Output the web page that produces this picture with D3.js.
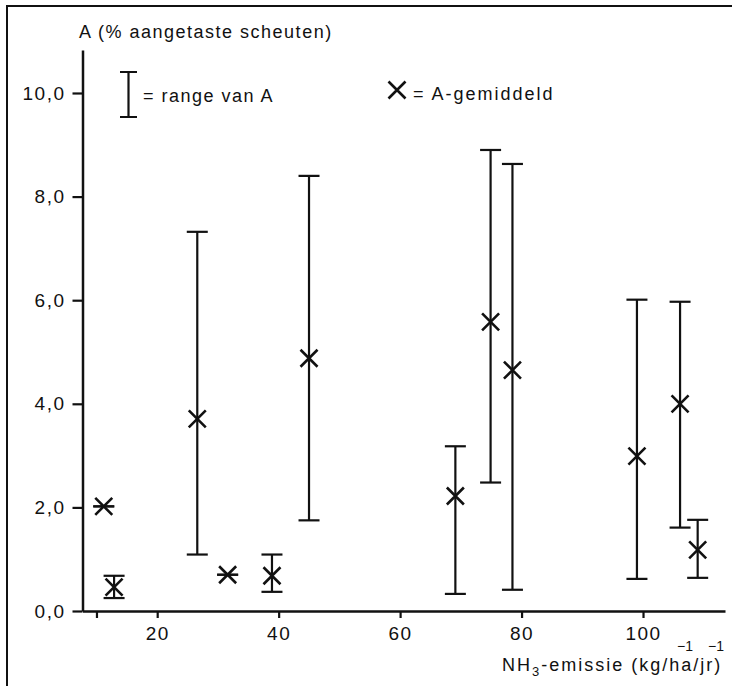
<!DOCTYPE html>
<html>
<head>
<meta charset="utf-8">
<script src="https://cdn.jsdelivr.net/npm/d3@7"></script>
<style>
  html, body { margin: 0; padding: 0; background: #fff; }
  svg { display: block; }
  text { font-family: "Liberation Sans", Arial, sans-serif; fill: #111; }
</style>
</head>
<body>
<svg id="chart" width="732" height="686"></svg>
<script>
"use strict";

// NH3-emissie per locatie (kg/ha/jr)
const emission = [11.2, 12.9, 26.6, 31.6, 38.9, 45.0, 69.1, 74.9, 78.5, 99.0, 106.1, 109.0];
// A: gemiddeld, minimum en maximum (% aangetaste scheuten)
const meanA = [2.02, 0.46, 3.71, 0.70, 0.68, 4.88, 2.22, 5.58, 4.65, 2.99, 4.00, 1.18];
const minA  = [2.02, 0.25, 1.09, 0.70, 0.37, 1.75, 0.33, 2.48, 0.41, 0.62, 1.61, 0.64];
const maxA  = [2.02, 0.68, 7.32, 0.70, 1.09, 8.40, 3.18, 8.90, 8.63, 6.01, 5.97, 1.76];

const xTicks = [10, 20, 40, 60, 80, 100];
const xTickLabels = ["", "20", "40", "60", "80", "100"];
const yTicks = [0, 2, 4, 6, 8, 10];

let svg = d3.select("#chart");
let ink = "#111";

let data = emission.map((e, i) => ({e: e, mean: meanA[i], lo: minA[i], hi: maxA[i]}));

let x = d3.scaleLinear().domain([7.7, 113.5]).range([82.5, 725]);
let y = d3.scaleLinear().domain([0, 10.83]).range([611, 50]);

// outer frame
svg.append("rect")
  .attr("x", 7).attr("y", 6)
  .attr("width", 740).attr("height", 700)
  .attr("fill", "none").attr("stroke", ink).attr("stroke-width", 2);

// y axis
let yAxis = d3.axisLeft(y)
  .tickValues(yTicks)
  .tickFormat(d => d3.format(".1f")(d).replace(".", ","))
  .tickSize(10).tickSizeOuter(0).tickPadding(7);
let gy = svg.append("g").attr("transform", `translate(${x.range()[0]},0)`).call(yAxis);
gy.select(".domain").attr("stroke", ink).attr("stroke-width", 2.5);
gy.selectAll(".tick line").attr("stroke", ink).attr("stroke-width", 2.2);
gy.selectAll(".tick text")
  .style("font-size", "19px").style("letter-spacing", "1.5px")
  .attr("fill", ink);

// x axis
let xAxis = d3.axisBottom(x)
  .tickValues(xTicks)
  .tickFormat((d, i) => xTickLabels[i])
  .tickSize(7).tickSizeOuter(0).tickPadding(9);
let gx = svg.append("g").attr("transform", `translate(0,${y.range()[0]})`).call(xAxis);
gx.select(".domain").attr("stroke", ink).attr("stroke-width", 2.5);
gx.selectAll(".tick line").attr("stroke", ink).attr("stroke-width", 2.2);
gx.selectAll(".tick text")
  .style("font-size", "19px").style("letter-spacing", "1.5px")
  .attr("fill", ink);

// axis titles
svg.append("text")
  .attr("x", 79).attr("y", 38)
  .style("font-size", "18px").style("letter-spacing", "1.5px")
  .text("A (% aangetaste scheuten)");

let xl = svg.append("text")
  .attr("x", 502).attr("y", 671)
  .style("font-size", "18px").style("letter-spacing", "2px");
xl.append("tspan").text("NH");
xl.append("tspan").attr("dy", 5).style("font-size", "13px").text("3");
xl.append("tspan").attr("dy", -5).text("-emissie (kg/ha/jr)");
svg.append("text").attr("x", 677).attr("y", 651)
  .style("font-size", "14px").text("\u22121");
svg.append("text").attr("x", 708).attr("y", 651)
  .style("font-size", "14px").text("\u22121");

// error bars
let capW = 21;
let bars = svg.append("g").attr("stroke", ink).attr("stroke-width", 2.2).attr("fill", "none");
bars.selectAll("line.range")
  .data(data.filter(d => d.hi > d.lo))
  .join("line").attr("class", "range")
  .attr("x1", d => x(d.e)).attr("x2", d => x(d.e))
  .attr("y1", d => y(d.lo)).attr("y2", d => y(d.hi));
bars.selectAll("line.cap-hi")
  .data(data)
  .join("line").attr("class", "cap-hi")
  .attr("x1", d => x(d.e) - capW / 2).attr("x2", d => x(d.e) + capW / 2)
  .attr("y1", d => y(d.hi)).attr("y2", d => y(d.hi));
bars.selectAll("line.cap-lo")
  .data(data)
  .join("line").attr("class", "cap-lo")
  .attr("x1", d => x(d.e) - capW / 2).attr("x2", d => x(d.e) + capW / 2)
  .attr("y1", d => y(d.lo)).attr("y2", d => y(d.lo));

// mean markers (x)
let m = 8.5;
let crossPath = (cx, cy) => `M${cx - m},${cy - m}L${cx + m},${cy + m}M${cx - m},${cy + m}L${cx + m},${cy - m}`;
svg.append("g").selectAll("path")
  .data(data)
  .join("path")
  .attr("d", d => crossPath(x(d.e), y(d.mean)))
  .attr("stroke", ink).attr("stroke-width", 2.6).attr("fill", "none");

// legend
let lg = svg.append("g");
lg.append("path")
  .attr("d", "M120,72H137M128.5,72V117M120,117H137")
  .attr("stroke", ink).attr("stroke-width", 2.2).attr("fill", "none");
lg.append("text").attr("x", 143).attr("y", 102)
  .style("font-size", "18px").style("letter-spacing", "1.5px")
  .text("= range van A");
lg.append("path")
  .attr("d", crossPath(397, 90))
  .attr("stroke", ink).attr("stroke-width", 2.6).attr("fill", "none");
lg.append("text").attr("x", 413).attr("y", 100)
  .style("font-size", "18px").style("letter-spacing", "2px")
  .text("= A-gemiddeld");
</script>
</body>
</html>
